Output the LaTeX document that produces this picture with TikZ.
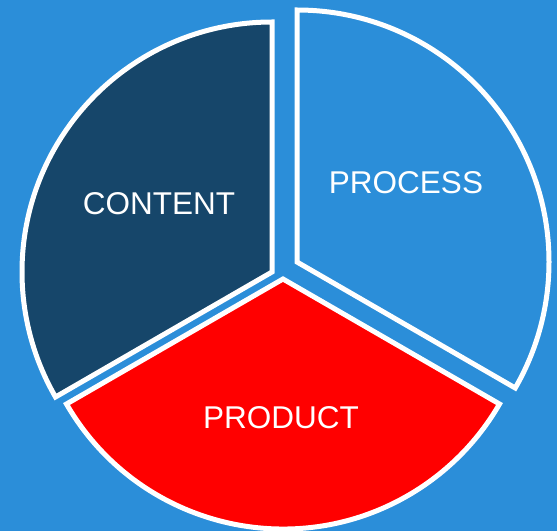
\documentclass[tikz,border=0pt]{standalone}
\usepackage{fontspec}
\setmainfont{Liberation Sans}
\usetikzlibrary{positioning}
\definecolor{bgblue}{RGB}{43,142,217}
\definecolor{navy}{RGB}{22,70,106}
\definecolor{prodred}{RGB}{255,0,0}

\begin{document}
\begin{tikzpicture}[x=1pt,y=1pt,
    sector/.style={draw=white, line width=5pt},
    label/.style={text=white, font=\fontsize{31.5}{38}\selectfont}]
        % background and margins
        \fill[bgblue] (0,0) rectangle (557,531);
        \useasboundingbox (0,0) rectangle (557,531);

        % centres of the three pieces
        \coordinate (ccontent) at (272,259);
        \coordinate (cprocess) at (297,269);
        \coordinate (cproduct) at (283,252);

        % pieces
        \draw[sector, fill=navy] (ccontent) -- ++(90:250) arc (90:210:250) -- cycle;
        \draw[sector, fill=bgblue] (cprocess) -- ++(90:252) arc (90:-30:252) -- cycle;
        \draw[sector, fill=prodred] (cproduct) -- ++(210:250) arc (210:330:250) -- cycle;

        % labels
        \node[label] (content) at (159,327) {CONTENT};
        \node[label] (process) at (406,348) {PROCESS};
        \node[label] (product) at (281,113) {PRODUCT};
    \end{tikzpicture}
\end{document}
